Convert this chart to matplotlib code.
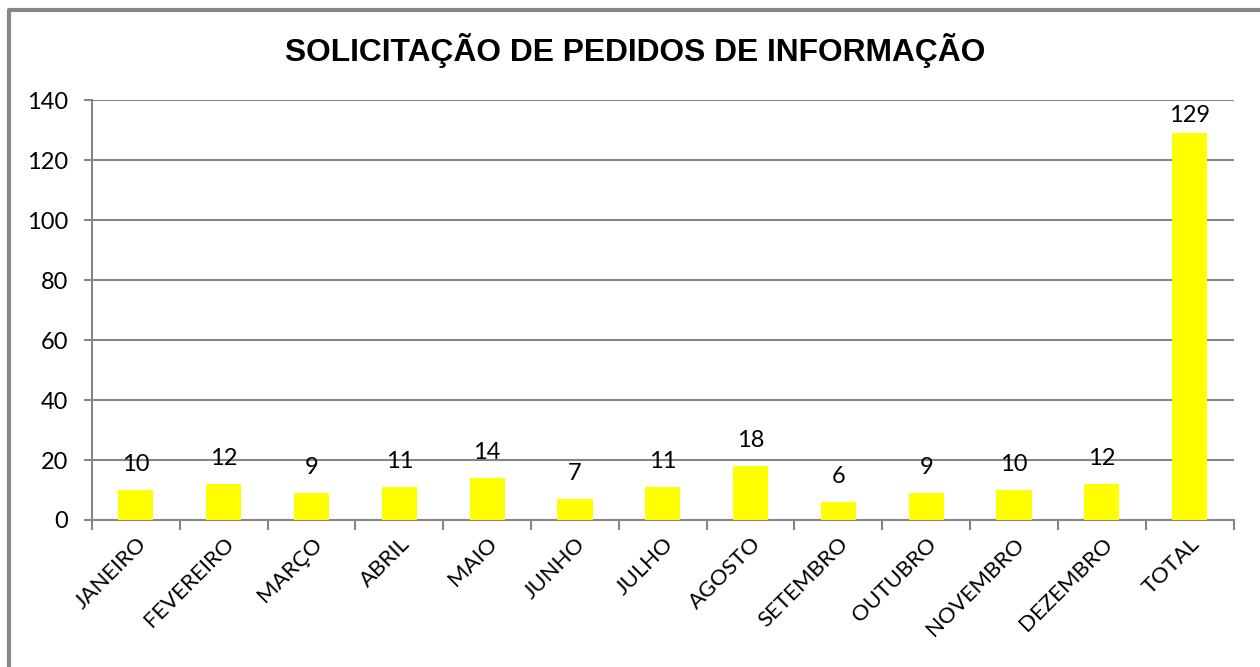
import matplotlib.pyplot as plt
from matplotlib.lines import Line2D

# Data
months = ['JANEIRO', 'FEVEREIRO', 'MARÇO', 'ABRIL', 'MAIO', 'JUNHO', 'JULHO',
          'AGOSTO', 'SETEMBRO', 'OUTUBRO', 'NOVEMBRO', 'DEZEMBRO', 'TOTAL']
requests = [10, 12, 9, 11, 14, 7, 11, 18, 6, 9, 10, 12, 129]
y_ticks = [0, 20, 40, 60, 80, 100, 120, 140]

grid_color = '#868686'

fig = plt.figure(figsize=(12.6, 6.67), dpi=100)
ax = fig.add_axes([0.073, 0.2204, 0.906, 0.6296])

x = list(range(len(months)))
ax.bar(x, requests, width=0.4, color='#FFFF00', zorder=3)

for xi, v in zip(x, requests):
    # labels are kept inside the plot area, like the spreadsheet does
    off = 11 if v < 120 else 5
    ax.annotate(str(v), (xi, v), xytext=(0, off), textcoords='offset points',
                ha='center', va='bottom', fontsize=17, family='Lato')

ax.set_xlim(-0.5, len(months) - 0.5)
ax.set_ylim(0, 140)
ax.set_yticks(y_ticks)
ax.set_yticklabels([str(t) for t in y_ticks], fontsize=17, family='Lato')
ax.yaxis.grid(True, color=grid_color, linewidth=1.5, zorder=0)

# category labels at centres, tick marks at boundaries
ax.set_xticks(x)
ax.set_xticklabels(months, rotation=45, ha='right', rotation_mode='anchor',
                   fontsize=16, family='Lato')
ax.tick_params(axis='x', which='major', length=0, pad=10)
ax.set_xticks([i - 0.5 for i in range(len(months) + 1)], minor=True)
ax.tick_params(axis='x', which='minor', length=7, width=1.5, color=grid_color)
ax.tick_params(axis='y', length=6, width=1.5, color=grid_color, pad=11)

for side in ['top', 'right']:
    ax.spines[side].set_visible(False)
for side in ['left', 'bottom']:
    ax.spines[side].set_color(grid_color)
    ax.spines[side].set_linewidth(1.5)

fig.text(0.504, 0.925, 'SOLICITAÇÃO DE PEDIDOS DE INFORMAÇÃO', ha='center', va='center',
         fontsize=22.9, fontweight='bold', family='Liberation Sans')

# chart frame (left and top edges visible)
fig.add_artist(Line2D([0.0072, 0.0072, 1.0], [0.0, 0.985, 0.985], color='#878787',
                      linewidth=3, transform=fig.transFigure))

fig.savefig('out.png', dpi=100)
